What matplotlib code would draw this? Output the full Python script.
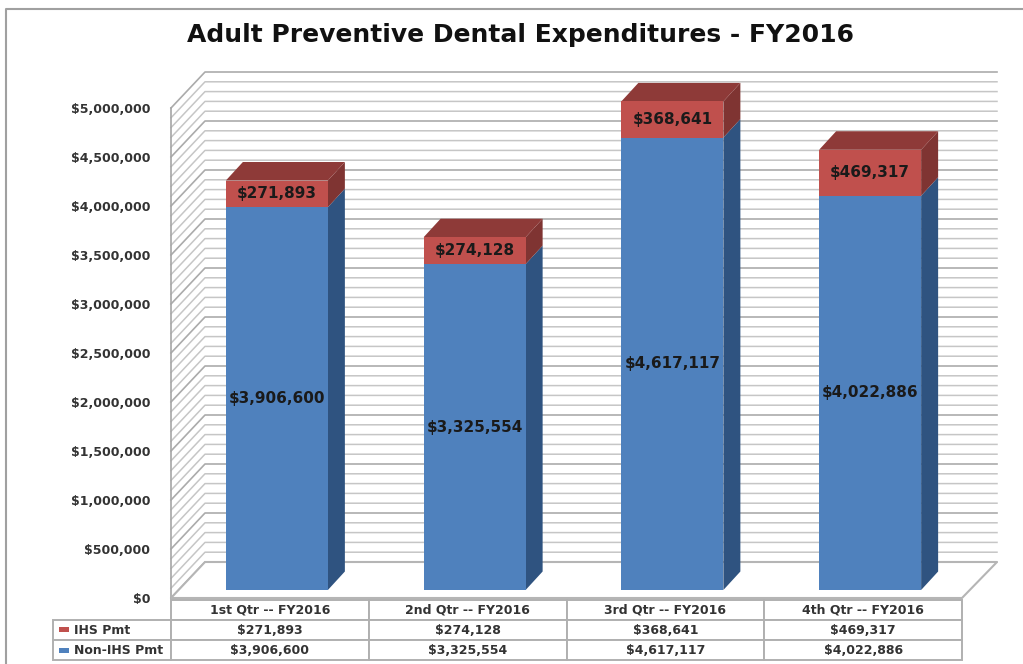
import numpy as np
import matplotlib
matplotlib.use('Agg')
import matplotlib.pyplot as plt
from matplotlib.patches import Polygon, Rectangle
from matplotlib.ticker import FuncFormatter

quarters = ['1st Qtr -- FY2016', '2nd Qtr -- FY2016', '3rd Qtr -- FY2016', '4th Qtr -- FY2016']
ihs_pmt = [271893, 274128, 368641, 469317]
non_ihs_pmt = [3906600, 3325554, 4617117, 4022886]
y_ticks = [0, 500000, 1000000, 1500000, 2000000, 2500000, 3000000, 3500000, 4000000, 4500000, 5000000]
minor_step = 100000

W, H = 1023, 664
FONT = 'DejaVu Sans'
TEXT = '#1a1a1a'

# 3D look: depth of the box and of each bar, in data units
wall_dx, wall_dy = 34 / 197.75, 36 / 98 * 1e6
bar_dx, bar_dy = 17 / 197.75, 18.5 / 98 * 1e6
floor_lift = 8 / 98 * 1e6
bar_shift = 7 / 197.75
bar_width = 102 / 197.75
right_end = (997 - 171) / 197.75

fig = plt.figure(figsize=(W / 100, H / 100), dpi=100)
ax = fig.add_axes([171 / W, (H - 598) / H, 791 / W, 490 / H])
ax.set_xlim(0, 4)
ax.set_ylim(0, 5000000)
for s in ax.spines.values():
    s.set_visible(False)
ax.patch.set_visible(False)


def face(points, color):
    ax.add_patch(Polygon(points, closed=True, facecolor=color, edgecolor='none',
                         clip_on=False, zorder=3))


# walls and gridlines
for v in np.arange(0, 5000001, minor_step):
    major = v in y_ticks
    c = '#ababab' if major else '#c6c6c6'
    lw = 1.2 if major else 1.1
    ax.plot([0, wall_dx, right_end], [v, v + wall_dy, v + wall_dy], color=c, lw=lw,
            clip_on=False, zorder=1)
ax.plot([0, 0], [0, 5000000], color='#a6a6a6', lw=1.2, clip_on=False, zorder=1)

# floor
floor = [(0, 0), (wall_dx, wall_dy), (right_end, wall_dy), (4, 0)]
ax.add_patch(Polygon(floor, closed=True, facecolor='white', edgecolor='#b5b5b5', lw=1.5,
                     clip_on=False, zorder=2))

# bars
xs = np.arange(4) + 0.5 + bar_shift
bottoms = np.full(4, floor_lift)
ax.bar(xs, non_ihs_pmt, bar_width, bottom=bottoms, color='#4f81bd', clip_on=False, zorder=4)
ax.bar(xs, ihs_pmt, bar_width, bottom=bottoms + np.array(non_ihs_pmt), color='#c0504d',
       clip_on=False, zorder=4)

for x, a, b in zip(xs, non_ihs_pmt, ihs_pmt):
    r = x + bar_width / 2
    l = x - bar_width / 2
    y0 = floor_lift
    y1 = y0 + a
    y2 = y1 + b
    face([(r, y0), (r + bar_dx, y0 + bar_dy), (r + bar_dx, y1 + bar_dy), (r, y1)], '#2f5380')
    face([(r, y1), (r + bar_dx, y1 + bar_dy), (r + bar_dx, y2 + bar_dy), (r, y2)], '#7f3432')
    face([(l, y2), (l + bar_dx, y2 + bar_dy), (r + bar_dx, y2 + bar_dy), (r, y2)], '#8e3a38')
    ax.text(x, y0 + a / 2, f'${a:,}', ha='center', va='center', fontsize=11, color=TEXT,
            family=FONT, fontweight='bold', zorder=5)
    ax.text(x, y1 + b / 2, f'${b:,}', ha='center', va='center', fontsize=11, color=TEXT,
            family=FONT, fontweight='bold', zorder=5)

# value axis
ax.set_yticks(y_ticks)
ax.yaxis.set_major_formatter(FuncFormatter(lambda v, p: f'${int(v):,}'))
ax.tick_params(axis='y', length=0, pad=15, labelsize=9)
for t in ax.get_yticklabels():
    t.set_fontweight('bold')
    t.set_color('#333333')
ax.set_xticks([])

# data table under the plot
rows = [[''] + quarters,
        ['IHS Pmt'] + [f'${v:,}' for v in ihs_pmt],
        ['Non-IHS Pmt'] + [f'${v:,}' for v in non_ihs_pmt]]
label_w = 118
widths = [label_w / (label_w + 791)] + [197.75 / (label_w + 791)] * 4
tab = ax.table(cellText=rows, colWidths=widths, cellLoc='center', zorder=6,
               bbox=[-label_w / 791, -62 / 490, (label_w + 791) / 791, 60 / 490])
tab.auto_set_font_size(False)
for (r, c), cell in tab.get_celld().items():
    cell.set_edgecolor('#b0b0b0')
    cell.set_linewidth(1.4)
    cell.set_facecolor('white')
    cell.set_text_props(fontsize=9, fontweight='bold', color='#333333', family=FONT)
    if c == 0:
        cell.PAD = 21 / label_w
        cell.set_text_props(ha='left', fontsize=9)
        if r == 0:
            cell.set_visible(False)

# legend keys inside the table
for y_px, color in [(629.5, '#c0504d'), (650, '#4f81bd')]:
    fig.add_artist(Rectangle((59 / W, (H - y_px - 2.5) / H), 10 / W, 5 / H, facecolor=color,
                             edgecolor='none', transform=fig.transFigure, zorder=7))

fig.text(520.5 / W, (H - 35) / H, 'Adult Preventive Dental Expenditures - FY2016', ha='center',
         va='center', fontsize=18, fontweight='bold', color='#111111', family=FONT)

# picture frame, top and left only
fig.add_artist(plt.Line2D([6 / W, 6 / W, 1], [0, (H - 9) / H, (H - 9) / H], color='#a0a0a0', lw=1.5))

fig.savefig('out.png', dpi=100)
